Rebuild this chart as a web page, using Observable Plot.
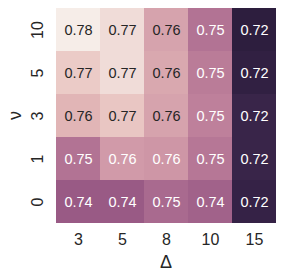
<!DOCTYPE html>
<html>
<head>
<meta charset="utf-8">
<script src="https://cdn.jsdelivr.net/npm/d3@7"></script>
<script src="https://cdn.jsdelivr.net/npm/@observablehq/plot@0.6"></script>
<style>
  html, body { margin: 0; padding: 0; background: #fff; }
  #chart { width: 284px; height: 278px; }
</style>
</head>
<body>
<div id="chart"></div>
<script>
// Δ categories (columns) and ν categories (rows, top to bottom)
const deltas = ["3", "5", "8", "10", "15"];
const nus = ["10", "5", "3", "1", "0"];
// values per row of nus, columns follow deltas
const row10 = [0.776, 0.772, 0.759, 0.748, 0.720];
const row5  = [0.768, 0.772, 0.760, 0.750, 0.721];
const row3  = [0.763, 0.767, 0.759, 0.751, 0.723];
const row1  = [0.748, 0.757, 0.756, 0.749, 0.723];
const row0  = [0.742, 0.742, 0.746, 0.744, 0.722];
const rows = [row10, row5, row3, row1, row0];

const stops = ["#2d1e3e", "#5b3768", "#9b5b86", "#c88ba1", "#e6bdba", "#f6ede8"];
const interp = d3.piecewise(d3.interpolateRgb, stops);
const vmin = 0.720, vmax = 0.776;

const data = [];
nus.forEach((nu, i) => deltas.forEach((d, j) => data.push({nu, delta: d, value: rows[i][j]})));

function lum(c) {
  const r = d3.rgb(c);
  const f = v => { v /= 255; return v <= 0.03928 ? v / 12.92 : Math.pow((v + 0.055) / 1.055, 2.4); };
  return 0.2126 * f(r.r) + 0.7152 * f(r.g) + 0.0722 * f(r.b);
}
const textColor = d => lum(interp(Math.max(0, Math.min(1, (d.value - vmin) / (vmax - vmin))))) > 0.408 ? "#262626" : "#ffffff";

const chart = Plot.plot({
  width: 284,
  height: 278,
  marginLeft: 54,
  marginRight: 7,
  marginTop: 7,
  marginBottom: 55,
  style: {fontFamily: "'Liberation Sans', Arial, sans-serif", background: "#fff"},
  x: {domain: deltas, padding: 0},
  y: {domain: nus, padding: 0},
  color: {type: "linear", domain: [vmin, vmax], interpolate: interp},
  marks: [
    Plot.cell(data, {x: "delta", y: "nu", fill: "value", inset: 0}),
    Plot.text(data, {x: "delta", y: "nu", text: d => d.value.toFixed(2), fill: textColor, fontSize: 14.5}),
    Plot.axisX({tickSize: 0, tickPadding: 10, fontSize: 16, color: "#262626", label: null}),
    Plot.axisX({tickSize: 0, ticks: [], fontSize: 18, color: "#262626", label: "Δ", labelAnchor: "center", labelArrow: "none", labelOffset: 44}),
    Plot.axisY({tickSize: 0, tickPadding: 12, tickRotate: -90, fontSize: 16, color: "#262626", label: null}),
    Plot.axisY({tickSize: 0, ticks: [], fontSize: 18, color: "#262626", label: "ν", labelAnchor: "center", labelArrow: "none", labelOffset: 46})
  ]
});
document.getElementById("chart").appendChild(chart);
</script>
</body>
</html>
